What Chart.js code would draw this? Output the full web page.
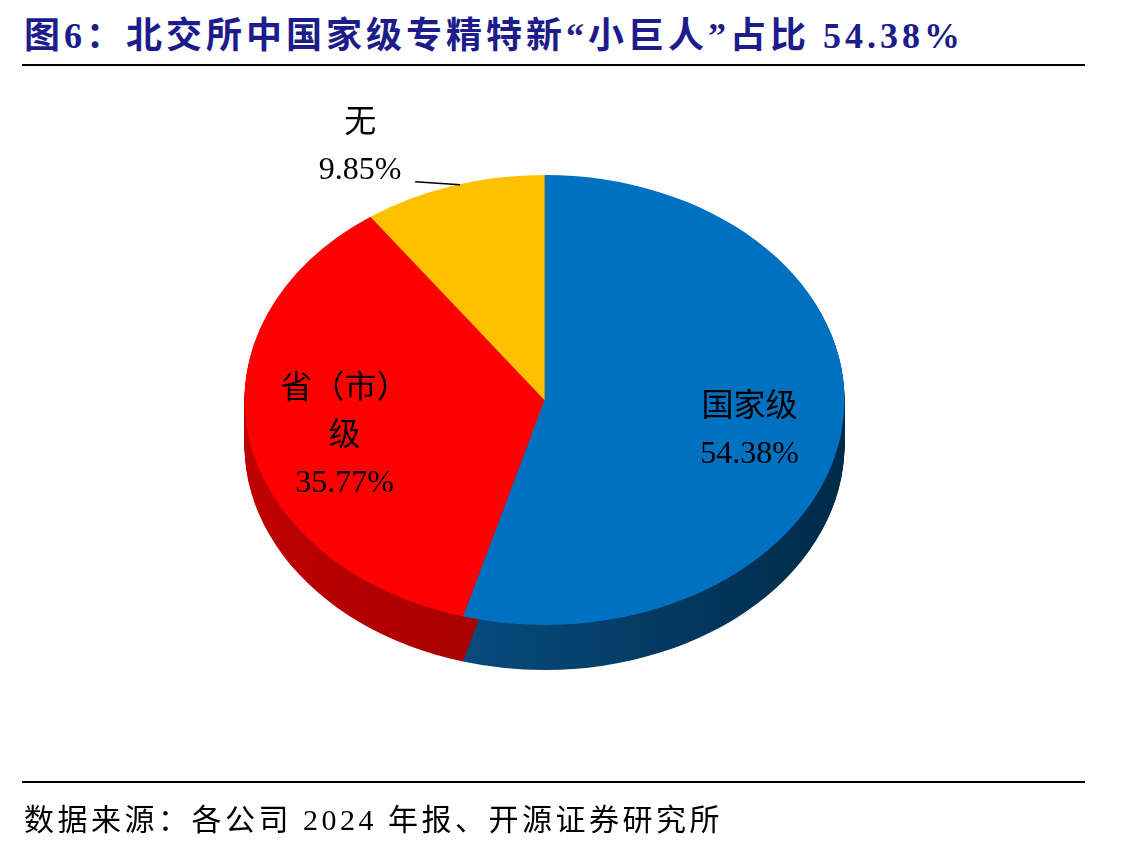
<!DOCTYPE html>
<html><head><meta charset="utf-8">
<script src="https://cdn.jsdelivr.net/npm/chart.js@4"></script>
<style>
body{margin:0;width:1137px;height:849px;background:#fff;position:relative;overflow:hidden;font-family:"Liberation Serif","Noto Sans CJK SC",serif}
#t{position:absolute;left:24px;top:6px;font-size:36px;letter-spacing:4px;font-weight:bold;color:#1c1c8a;white-space:nowrap}
#l1{position:absolute;left:22px;top:64px;width:1063px;border-top:2px solid #000}
#l2{position:absolute;left:22px;top:781px;width:1063px;border-top:2px solid #000}
#f{position:absolute;left:24px;top:795px;font-size:30px;letter-spacing:3.5px;color:#000;white-space:nowrap}
#wrap{position:absolute;left:0;top:0;width:1137px;height:800px}
</style></head><body>
<div id="t">图6：北交所中国家级专精特新“小巨人”占比 54.38%</div>
<div id="l1"></div>
<div id="wrap"><canvas id="c"></canvas></div>
<div id="l2"></div>
<div id="f">数据来源：各公司 2024 年报、开源证券研究所</div>
<script>
const categories=["国家级","省（市）级","无"];
const labelLines=[["国家级"],["省（市）","级"],["无"]];
const values=[54.38,35.77,9.85];
const colors=["#0070c0","#ff0000","#ffc000"];
const SY=0.75, DEPTH=45;
const pie3d={id:'pie3d',
 beforeDatasetsDraw(chart){
  const ctx=chart.ctx, meta=chart.getDatasetMeta(0);
  const a0=meta.data[0], cx=a0.x, cy=a0.y, r=a0.outerRadius, ry=r*SY;
  ctx.save();
  meta.data.forEach((el,i)=>{
    const g=ctx.createLinearGradient(cx-r,0,cx+r,0);
    if(i==0){g.addColorStop(0,"#0b5d99");g.addColorStop(0.4,"#07497a");g.addColorStop(1,"#002a48");}
    else if(i==1){g.addColorStop(0,"#c00000");g.addColorStop(0.5,"#a00000");g.addColorStop(1,"#6a0000");}
    else{g.addColorStop(0,"#b08000");g.addColorStop(1,"#c09000");}
    ctx.fillStyle=g;
    for(let d=DEPTH;d>=1;d--){
      ctx.beginPath();ctx.moveTo(cx,cy+d);
      ctx.ellipse(cx,cy+d,r,ry,0,el.startAngle,el.endAngle);
      ctx.closePath();ctx.fill();
    }
  });
  ctx.restore();
  ctx.save();
  ctx.translate(cx,cy);ctx.scale(1,SY);ctx.translate(-cx,-cy);
 },
 afterDatasetsDraw(chart){
  chart.ctx.restore();
  const ctx=chart.ctx, meta=chart.getDatasetMeta(0);
  ctx.save();ctx.fillStyle="#000";ctx.font='32px "Liberation Serif","Noto Sans CJK SC",serif';
  ctx.textAlign="center";ctx.textBaseline="middle";
  meta.data.forEach((el,i)=>{
    const cx=el.x,cy=el.y,r=el.outerRadius;
    const m=(el.startAngle+el.endAngle)/2;
    const lines=[...labelLines[i],values[i].toFixed(2)+"%"];
    if(i<2){
      const x=cx+Math.cos(m)*r*0.69, y=cy+Math.sin(m)*r*SY*0.69+10;
      const h=47, y0=y-(lines.length-1)*h/2;
      lines.forEach((s,k)=>ctx.fillText(s,x+(i==1?4:0),y0+k*h));
    }else{
      const ex=cx+Math.cos(m)*r, ey=cy+Math.sin(m)*r*SY;
      ctx.strokeStyle="#000";ctx.lineWidth=1.5;ctx.beginPath();
      ctx.moveTo(ex+7,ey-1);ctx.lineTo(ex-38,ey-4);ctx.stroke();
      ctx.fillText(lines[0],ex-93,ey-62);
      ctx.fillText(lines[1],ex-93,ey-15);
    }
  });
  ctx.restore();
 }};
new Chart(document.getElementById('c'),{type:'pie',
 data:{labels:categories,datasets:[{data:values,backgroundColor:colors,borderWidth:0}]},
 options:{responsive:true,maintainAspectRatio:false,animation:false,events:[],
  layout:{padding:{left:0,right:48,top:100,bottom:100}},
  plugins:{legend:{display:false},tooltip:{enabled:false}}},
 plugins:[pie3d]});
</script></body></html>
